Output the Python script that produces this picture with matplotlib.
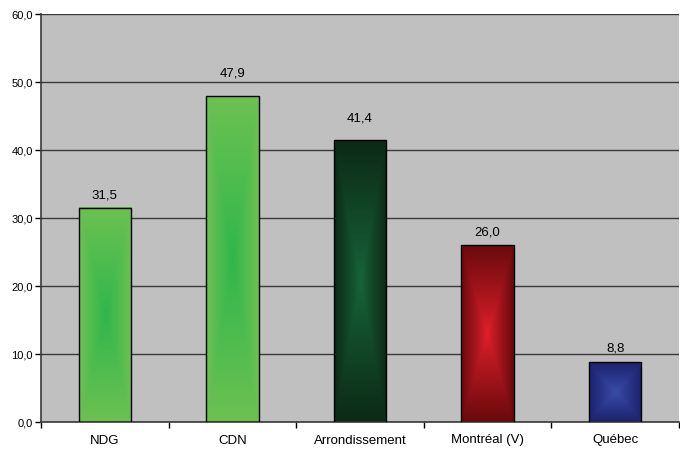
import numpy as np
import matplotlib
matplotlib.use("Agg")
import matplotlib.pyplot as plt
from matplotlib.ticker import FuncFormatter, MultipleLocator, FixedLocator

categories = ["NDG", "CDN", "Arrondissement", "Montréal (V)", "Québec"]
values = [31.5, 47.9, 41.4, 26.0, 8.8]
center_colors = ["#2db64b", "#2db64b", "#17663a", "#e2202b", "#3a4ea8"]
edge_colors = ["#6cc152", "#6cc152", "#0c2a16", "#6a0a0c", "#1c226f"]
# label offsets above bar top (pixels), as placed in the original
label_gap_px = [12, 23, 22, 13, 14]

plt.rcParams['font.family'] = ['Liberation Sans', 'DejaVu Sans']

fig = plt.figure(figsize=(6.8, 4.51), dpi=100)
ax = fig.add_axes([41/680, 29/451, 638/680, 408/451])
ax.set_facecolor("#c0c0c0")

n = len(categories)
ax.set_xlim(-0.5, n - 0.5)
ax.set_ylim(0, 60)
width = 0.41

def hex2rgb(h):
    h = h.lstrip('#')
    return np.array([int(h[i:i+2], 16) / 255 for i in (0, 2, 4)])

for i, (v, cc, ec, g) in enumerate(zip(values, center_colors, edge_colors, label_gap_px)):
    ny, nx = 200, 60
    yy, xx = np.mgrid[-1:1:ny*1j, -1:1:nx*1j]
    t = np.maximum(np.abs(xx), np.abs(yy))
    t = np.clip(t, 0, 1) ** 0.9
    c0 = hex2rgb(cc)
    c1 = hex2rgb(ec)
    img = c0[None, None, :] * (1 - t[..., None]) + c1[None, None, :] * t[..., None]
    ax.imshow(img, extent=(i - width/2, i + width/2, 0, v), aspect='auto',
              interpolation='bilinear', zorder=2)
    ax.bar(i, v, width=width, facecolor='none', edgecolor='black', linewidth=1, zorder=3)
    ax.annotate(f"{v:.1f}".replace('.', ','), xy=(i, v), xytext=(0, g * 0.72),
                textcoords='offset points', ha='center', va='center',
                fontsize=9.5, color='black', zorder=4)

ax.set_xlim(-0.5, n - 0.5)
ax.set_ylim(0, 60)
ax.yaxis.set_major_locator(MultipleLocator(10))
ax.yaxis.set_major_formatter(FuncFormatter(lambda y, p: f"{y:.1f}".replace('.', ',')))
ax.grid(axis='y', color='#3a3a3a', linewidth=1, zorder=1)
ax.set_axisbelow(True)

ax.set_xticks(range(n))
ax.set_xticklabels(categories, fontsize=9.5)
ax.tick_params(axis='x', length=0, pad=9)
ax.xaxis.set_minor_locator(FixedLocator([k + 0.5 for k in range(-1, n)]))
ax.tick_params(axis='x', which='minor', length=4, width=1, color='black', direction='out')
ax.tick_params(axis='y', length=4, width=1, direction='out', labelsize=8, pad=2)

for s in ['top', 'right']:
    ax.spines[s].set_visible(False)
ax.spines['left'].set_color('#3a3a3a')
ax.spines['bottom'].set_color('#3a3a3a')
ax.spines['left'].set_linewidth(1.2)
ax.spines['bottom'].set_linewidth(1.2)

fig.savefig("out.png", dpi=100, facecolor='white')
